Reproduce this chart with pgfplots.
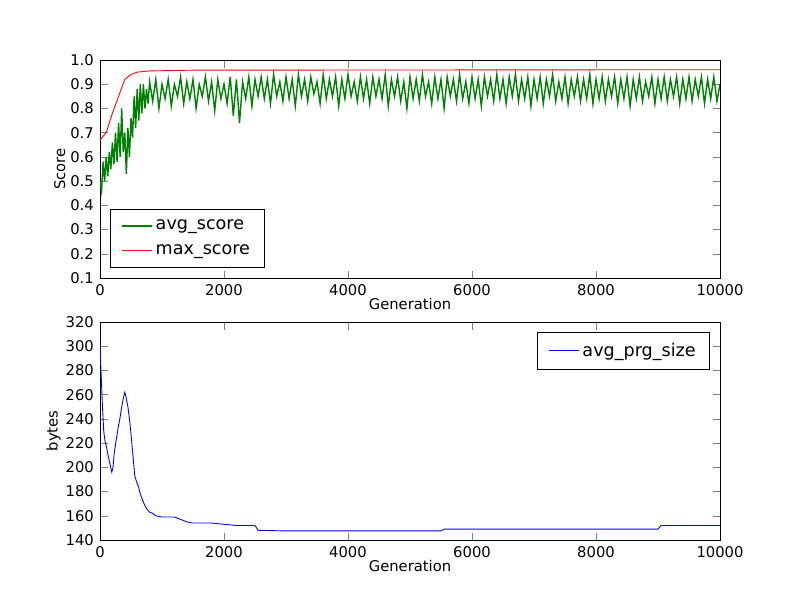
\documentclass[border=0pt]{standalone}
\usepackage{pgfplots}
\pgfplotsset{compat=1.18}
\usepackage{fontspec}
\setmainfont{DejaVu Sans}
\definecolor{mplgreen}{rgb}{0,0.5,0}
\begin{document}
\begin{tikzpicture}
\path[use as bounding box] (0,0) rectangle (16,12);
\pgfplotsset{every axis/.append style={
  scale only axis, width=12.4cm, height=4.36cm, anchor=south west,
  xmin=0, xmax=10000, tick align=inside, xtick pos=both, ytick pos=both,
  /pgf/number format/assume math mode=true,
  ticklabel style={font=\fontsize{8.4}{10}\selectfont},
  label style={font=\fontsize{8.4}{10}\selectfont},
  xtick={0,2000,4000,6000,8000,10000},
  scaled x ticks=false, xticklabel style={/pgf/number format/1000 sep={}},
  legend style={font=\fontsize{10}{12}\selectfont, draw=black, legend cell align=left, inner xsep=6pt, inner ysep=4pt, row sep=3pt},
  xlabel={Generation},
  xlabel style={yshift=5pt},
}}
\begin{axis}[at={(2cm,6.44cm)}, ymin=0.1, ymax=1.0, ytick={0.1,0.2,...,1.0},
  ylabel={Score}, ylabel style={yshift=-4pt},
  yticklabel style={/pgf/number format/fixed,/pgf/number format/fixed zerofill,/pgf/number format/precision=1},
  legend style={at={(0.016,0.046)}, anchor=south west}]
\addplot[color=mplgreen, line width=0.8pt] coordinates {
(0,0.5)(25,0.46)(50,0.58)(75,0.5)(100,0.6)(125,0.52)(150,0.62)(175,0.55)(200,0.66)(225,0.57)(250,0.7)(275,0.58)(300,0.74)(325,0.6)(350,0.8)(375,0.62)(400,0.7)(425,0.53)(450,0.72)(475,0.6)(500,0.76)(525,0.68)(550,0.85)(575,0.72)(600,0.88)(625,0.75)(650,0.9)(675,0.78)(700,0.9)(725,0.8)(750,0.88)(775,0.82)
(800,0.91)(850,0.83)(900,0.92)(950,0.8)(1000,0.9)(1050,0.84)(1100,0.92)(1150,0.81)(1200,0.9)(1250,0.85)(1300,0.93)(1350,0.82)(1400,0.91)(1450,0.84)(1500,0.92)(1550,0.8)(1600,0.9)(1650,0.85)(1700,0.93)(1750,0.83)(1800,0.91)(1850,0.79)(1900,0.92)(1950,0.84)(2000,0.9)(2050,0.82)(2100,0.93)(2150,0.77)(2200,0.92)(2250,0.74)(2300,0.91)(2350,0.84)(2400,0.93)(2450,0.81)(2500,0.92)(2550,0.85)(2600,0.93)(2650,0.84)(2700,0.92)(2750,0.82)(2800,0.94)(2850,0.85)(2900,0.91)(2950,0.83)
(3000,0.93)(3050,0.84)(3100,0.92)(3150,0.81)(3200,0.94)(3250,0.85)(3300,0.92)(3350,0.83)(3400,0.93)(3450,0.86)(3500,0.91)(3550,0.82)(3600,0.94)(3650,0.84)(3700,0.92)(3750,0.85)(3800,0.93)(3850,0.81)(3900,0.92)(3950,0.84)(4000,0.94)(4050,0.85)(4100,0.91)(4150,0.83)(4200,0.93)(4250,0.84)(4300,0.92)(4350,0.82)(4400,0.93)(4450,0.85)(4500,0.92)(4550,0.84)(4600,0.94)(4650,0.81)(4700,0.92)(4750,0.85)(4800,0.93)(4850,0.83)(4900,0.91)(4950,0.8)
(5000,0.93)(5050,0.84)(5100,0.92)(5150,0.83)(5200,0.94)(5250,0.85)(5300,0.91)(5350,0.82)(5400,0.93)(5450,0.84)(5500,0.92)(5550,0.8)(5600,0.93)(5650,0.85)(5700,0.92)(5750,0.83)(5800,0.94)(5850,0.84)(5900,0.91)(5950,0.82)(6000,0.93)(6050,0.84)(6100,0.92)(6150,0.81)(6200,0.93)(6250,0.85)(6300,0.92)(6350,0.83)(6400,0.94)(6450,0.84)(6500,0.92)(6550,0.82)(6600,0.93)(6650,0.85)(6700,0.94)(6750,0.83)(6800,0.92)(6850,0.84)(6900,0.93)(6950,0.81)
(7000,0.92)(7050,0.84)(7100,0.93)(7150,0.82)(7200,0.92)(7250,0.85)(7300,0.94)(7350,0.83)(7400,0.91)(7450,0.84)(7500,0.93)(7550,0.82)(7600,0.92)(7650,0.85)(7700,0.93)(7750,0.83)(7800,0.92)(7850,0.84)(7900,0.94)(7950,0.82)(8000,0.92)(8050,0.84)(8100,0.93)(8150,0.83)(8200,0.92)(8250,0.85)(8300,0.93)(8350,0.82)(8400,0.92)(8450,0.84)(8500,0.93)(8550,0.81)(8600,0.92)(8650,0.84)(8700,0.93)(8750,0.83)(8800,0.91)(8850,0.85)(8900,0.93)(8950,0.82)
(9000,0.92)(9050,0.84)(9100,0.93)(9150,0.83)(9200,0.92)(9250,0.85)(9300,0.93)(9350,0.82)(9400,0.92)(9450,0.84)(9500,0.93)(9550,0.83)(9600,0.92)(9650,0.85)(9700,0.93)(9750,0.82)(9800,0.92)(9850,0.84)(9900,0.93)(9950,0.83)(10000,0.9)
};
\addlegendentry{avg\_score}
\addplot[red, line width=0.5pt] coordinates {
(0,0.67)(100,0.7)(150,0.74)(200,0.78)(300,0.85)(400,0.92)(500,0.94)(600,0.95)(800,0.955)(1500,0.958)(10000,0.96)};
\addlegendentry{max\_score}
\end{axis}
\begin{axis}[at={(2cm,1.2cm)}, ymin=140, ymax=320, ytick={140,160,...,320},
  ylabel={bytes}, ylabel style={yshift=-4pt},
  legend style={at={(0.984,0.954)}, anchor=north east}]
\addplot[blue, line width=0.5pt] coordinates {
(0,300)(20,275)(40,250)(60,230)(80,222)(100,218)(130,210)(160,203)(190,196)(210,200)(230,212)(260,222)(290,232)(320,240)(350,250)(380,258)(400,262)(420,258)(450,250)(480,238)(510,222)(540,205)(560,193)(590,188)(620,184)(650,178)(680,174)(710,170)(750,166)(800,163)(850,162)(900,160)(1000,159)(1200,159)(1300,157)(1400,155)(1500,154)(1800,154)(2000,153)(2200,152)(2500,152)(2550,148)(3000,147.5)(5500,147.5)(5550,149)(7000,149)(9000,149)(9050,152)(10000,152)};
\addlegendentry{avg\_prg\_size}
\end{axis}
\end{tikzpicture}
\end{document}
